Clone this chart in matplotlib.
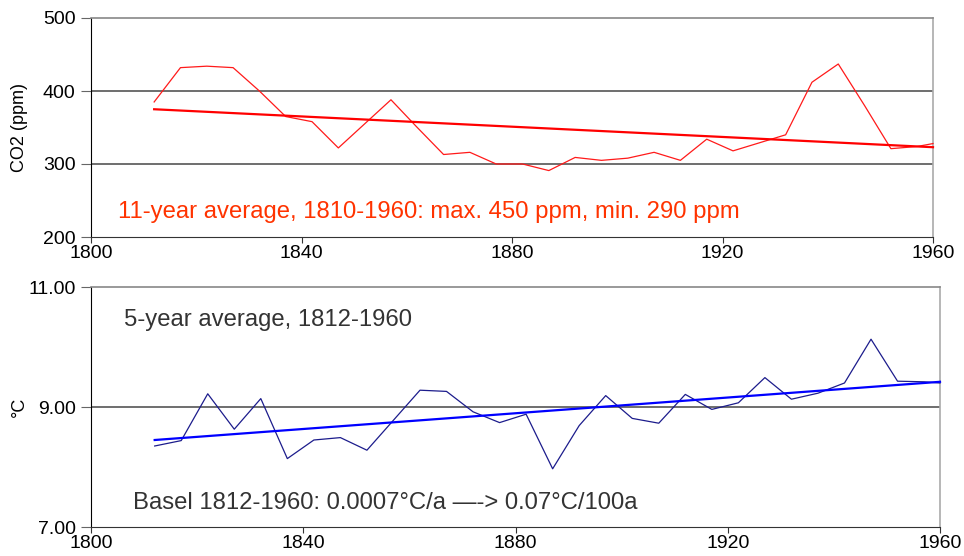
import matplotlib
matplotlib.use("Agg")
import matplotlib.pyplot as plt
import numpy as np

plt.rcParams['font.family'] = ['Liberation Sans', 'DejaVu Sans']

# 5-year spaced points, 1812 .. 1957 plus end point
years = [1812, 1817, 1822, 1827, 1832, 1837, 1842, 1847, 1852, 1857,
         1862, 1867, 1872, 1877, 1882, 1887, 1892, 1897, 1902, 1907,
         1912, 1917, 1922, 1927, 1932, 1937, 1942, 1947, 1952, 1957, 1960]

co2 = [385, 432, 434, 432, 400, 365, 358, 322, 355, 388,
       350, 313, 316, 300, 300, 291, 309, 305, 308, 316,
       305, 334, 318, 329, 340, 412, 437, 380, 321, 324, 328]

temp = [8.35, 8.44, 9.22, 8.63, 9.14, 8.14, 8.45, 8.49, 8.28, 8.78,
        9.28, 9.26, 8.92, 8.74, 8.88, 7.97, 8.69, 9.19, 8.81, 8.73,
        9.21, 8.96, 9.07, 9.49, 9.13, 9.23, 9.40, 10.13, 9.43, 9.42, 9.40]

# trend line end points
trend_years = [1812, 1960]
co2_trend = [375, 323]
temp_trend = [8.45, 9.42]

xticks = [1800, 1840, 1880, 1920, 1960]

fig = plt.figure(figsize=(9.64, 5.56), dpi=100)
ax1 = fig.add_axes([91/964, 1-237/556, (933-91)/964, (237-18)/556])
ax2 = fig.add_axes([91/964, 1-527/556, (940-91)/964, (527-287)/556])


def style(ax, ylim, yticks, fmt):
    ax.set_xlim(1800, 1960)
    ax.set_ylim(*ylim)
    ax.set_xticks(xticks)
    ax.set_yticks(yticks)
    ax.set_yticklabels([fmt % v for v in yticks])
    for v in yticks[1:-1]:
        ax.axhline(v, color='#555555', lw=1.2, zorder=1)
    ax.spines['top'].set_color('#888888')
    ax.spines['top'].set_linewidth(1.2)
    ax.spines['right'].set_color('#aaaaaa')
    ax.spines['right'].set_linewidth(1.2)
    ax.spines['left'].set_color('black')
    ax.spines['bottom'].set_color('#333333')
    ax.tick_params(axis='y', direction='out', length=7.5, color='#666666',
                   labelsize=14, pad=3.5)
    ax.tick_params(axis='x', direction='out', length=4, color='#333333',
                   labelsize=14, pad=1.5)


style(ax1, (200, 500), [200, 300, 400, 500], '%d')
ax1.plot(years, co2, color='#ff1a1a', lw=0.9, zorder=3, clip_on=False)
ax1.plot(trend_years, co2_trend, color='#ff0000', lw=1.6, zorder=3, clip_on=False)
ax1.set_ylabel('CO2 (ppm)', fontsize=13)
ax1.yaxis.set_label_coords(-0.075, 0.5)
ax1.text(0.032, 0.114, '11-year average, 1810-1960: max. 450 ppm, min. 290 ppm',
         transform=ax1.transAxes, color='#ff3300', fontsize=17.2, va='center')

style(ax2, (7, 11), [7, 9, 11], '%.2f')
ax2.plot(years, temp, color='#1c1c8c', lw=0.9, zorder=3, clip_on=False)
ax2.plot(trend_years, temp_trend, color='#0000ff', lw=1.6, zorder=3, clip_on=False)
ax2.set_ylabel('°C', fontsize=13)
ax2.yaxis.set_label_coords(-0.074, 0.5)
ax2.text(0.039, 0.8625, '5-year average, 1812-1960', transform=ax2.transAxes,
         color='#333333', fontsize=17.2, va='center')
ax2.text(0.049, 0.1, 'Basel 1812-1960: 0.0007°C/a —-> 0.07°C/100a',
         transform=ax2.transAxes, color='#333333', fontsize=17.2, va='center')

fig.savefig('out.png', dpi=100)
